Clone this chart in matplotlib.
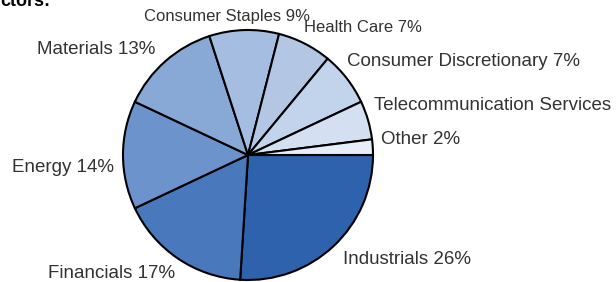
import matplotlib
matplotlib.use("Agg")
import matplotlib.pyplot as plt

plt.rcParams['font.family'] = ['Liberation Sans', 'DejaVu Sans']

sectors = ["Industrials", "Financials", "Energy", "Materials", "Consumer Staples",
           "Health Care", "Consumer Discretionary", "Telecommunication Services", "Other"]
shares = [26, 17, 14, 13, 9, 7, 7, 5, 2]
labels = ["Industrials 26%", "Financials 17%", "Energy 14%", "Materials 13%",
          "Consumer Staples 9%", "Health Care 7%", "Consumer Discretionary 7%",
          "Telecommunication Services", "Other 2%"]
colors = ["#2e62ad", "#4a78bd", "#6c93cb", "#88a9d6", "#a4bde0",
          "#b3c7e5", "#c2d3ec", "#d4e0f1", "#e8eef8"]

# label anchor points in pixels (left edge, vertical centre, from top)
label_px = [(343, 259), (48, 273), (12, 167), (37, 50), (144, 17),
            (304, 28), (347, 62), (374, 106), (381, 139)]
# the two top labels are squeezed in the original
label_size = [13.5, 13.5, 13.5, 13.5, 12, 12, 13.5, 13.5, 13.5]

W, H = 616, 282
fig = plt.figure(figsize=(W / 100, H / 100), dpi=100)
ax = fig.add_axes([0, 0, 1, 1])

ax.pie(shares, colors=colors, startangle=0, counterclock=False,
       center=(248, H - 155), radius=125, frame=True,
       wedgeprops=dict(edgecolor='black', linewidth=1.5))
ax.set_xlim(0, W)
ax.set_ylim(0, H)
ax.set_aspect('equal')
ax.axis('off')

for lab, (px, py), fs in zip(labels, label_px, label_size):
    ax.text(px, H - py, lab, fontsize=fs, color='#333333', ha='left', va='center')

fig.text(0.0, 1.0 - 1.0 / H, "ctors:", fontsize=13, fontweight='bold',
         ha='left', va='center')

fig.savefig("out.png", dpi=100)
